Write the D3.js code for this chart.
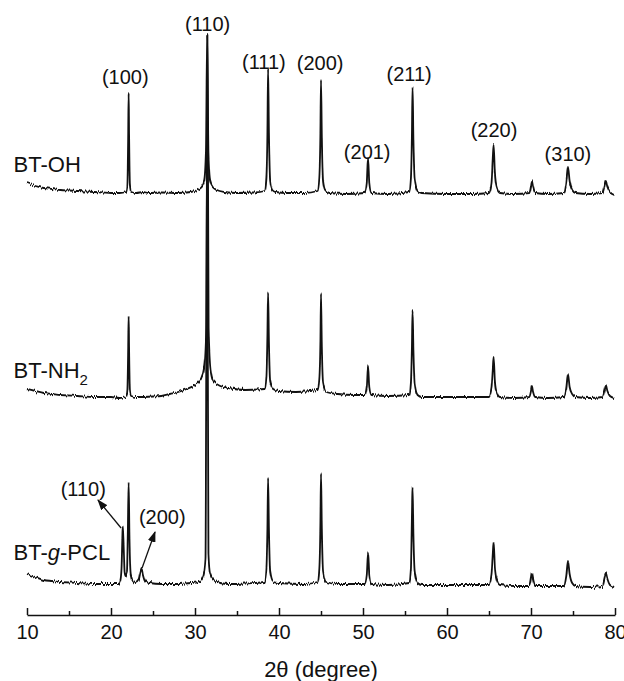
<!DOCTYPE html>
<html>
<head>
<meta charset="utf-8">
<script src="https://cdn.jsdelivr.net/npm/d3@7/dist/d3.min.js"></script>
<style>
  body { margin: 0; background: #fff; }
  text { font-family: 'Liberation Sans', Arial, sans-serif; fill: #111; }
</style>
</head>
<body>
<div id="chart"></div>
<script>

// Pattern data: [2theta, intensity (a.u.)], relative to each trace's own baseline
var ohPattern = [
  [10,10],[11,7],[12,5],[13,4],[14,3],[15,2.5],[16,2],[17,1.5],[18,1],[19,0.5],[20,0],[21,0],
  [21.8,1],[21.95,8],[22.05,60],[22.1,100],[22.15,60],[22.25,8],[22.4,1],[23,0],[23.8,1],[24.5,0],
  [26,0.5],[28,0],[29.5,1],[30.3,3],[30.8,6],[31.1,12],[31.3,40],[31.45,158],[31.6,40],[31.8,12],
  [32.1,6],[32.6,3],[33.5,1],[35,0],[37,0.5],[38.3,2],[38.5,15],[38.62,60],[38.7,124],[38.8,60],
  [38.95,12],[39.2,3],[39.6,1],[41,0],[43,0],[44.6,2],[44.8,15],[44.93,60],[45,113],[45.1,55],
  [45.25,12],[45.5,3],[46,0],[48,-1],[50.2,0],[50.45,10],[50.6,35],[50.75,10],[51,0],[53,-1],
  [55.5,1],[55.7,14],[55.82,55],[55.9,106],[56,55],[56.15,14],[56.5,2],[57,0],[60,-1],[63,-1],
  [65,0],[65.3,10],[65.45,35],[65.55,48],[65.7,20],[65.9,6],[66.3,0],[68,-1],[69.8,0],[70,7],
  [70.1,12],[70.25,6],[70.5,0],[72,-1],[73.9,0],[74.2,10],[74.4,26],[74.6,12],[74.9,3],[75.3,0],
  [77,-1],[78.5,0],[78.75,7],[78.9,12],[79.1,6],[79.4,1],[79.9,-2]
];

var nh2Pattern = [
  [10,8],[11,6],[12,4],[13,3],[14,2],[16,1],[18,0],[20,0],[21,-1],
  [21.8,0],[21.95,7],[22.05,50],[22.1,81],[22.15,50],[22.25,7],[22.4,1],[23,0],[25,0.5],
  [26,1],[27,3],[28,5],[29,8],[30,12],[30.7,18],[31.1,30],[31.35,70],[31.48,362],[31.62,70],
  [31.85,28],[32.2,16],[33,11],[34,9],[36,7],[38.3,8],[38.5,20],[38.62,60],[38.7,105],[38.8,55],
  [38.95,16],[39.3,8],[40,6],[42,5],[44.6,7],[44.8,18],[44.93,55],[45,103],[45.1,50],[45.25,14],
  [45.6,5],[47,3],[49,2],[50.2,2],[50.45,10],[50.6,32],[50.75,10],[51,2],[53,1],[55.5,2],
  [55.7,14],[55.82,48],[55.9,87],[56,48],[56.15,14],[56.5,2],[57,0],[60,0],[63,0],[65,0],
  [65.3,9],[65.45,28],[65.55,40],[65.7,16],[65.9,5],[66.3,0],[68,-1],[69.8,0],[70,6],[70.1,11],
  [70.25,5],[70.5,0],[72,-1],[73.9,0],[74.2,9],[74.4,23],[74.6,10],[74.9,3],[75.3,0],[77,-1],
  [78.5,0],[78.75,7],[78.9,12],[79.1,6],[79.4,1],[79.9,-1]
];

var pclPattern = [
  [10,10],[11,7],[12,4],[13,3],[14,2],[16,1],[18,0],[20,0],[20.9,0],
  [21.1,3],[21.25,15],[21.35,45],[21.4,57],[21.5,40],[21.62,12],[21.72,8],[21.9,12],[22,50],
  [22.1,102],[22.2,45],[22.35,10],[22.6,3],[22.9,1],[23.3,4],[23.5,12],[23.65,16],[23.8,10],
  [24.1,3],[24.6,1],[26,0],[28,0],[29.5,1],[30.5,2],[31,8],[31.25,25],[31.44,454],[31.6,30],
  [31.8,10],[32.2,4],[33,1],[34,0],[36,0.5],[38.3,2],[38.5,15],[38.62,55],[38.7,106],[38.8,55],
  [38.95,12],[39.3,2],[40,1],[43,0],[44.6,2],[44.8,15],[44.93,60],[45,111],[45.1,55],[45.25,12],
  [45.6,2],[47,0],[50.2,0],[50.45,9],[50.6,31],[50.75,9],[51,0],[53,-1],[55.5,1],[55.7,14],
  [55.8,55],[55.85,80],[55.9,97],[56,50],[56.15,13],[56.5,1],[57,-1],[60,-1],[63,-1],[65,-1],
  [65.3,9],[65.45,30],[65.55,42],[65.7,17],[65.9,5],[66.3,-1],[68,-2],[69.8,-2],[70,6],[70.1,11],
  [70.25,5],[70.5,-2],[72,-2],[73.9,-2],[74.2,8],[74.4,23],[74.6,10],[74.9,1],[75.3,-2],[77,-3],
  [78.5,-2],[78.75,6],[78.9,11],[79.1,5],[79.4,-1],[79.9,-3]
];

var patterns = [ohPattern, nh2Pattern, pclPattern];
var offsets = [422, 218, 31];
var sampleNames = ['BT-OH', 'BT-NH2', 'BT-g-PCL'];
var sampleLabelHeights = [21, 19, 24];

// Miller indices on the BT-OH trace
var hklLabels = ['(100)', '(110)', '(111)', '(200)', '(201)', '(211)', '(220)', '(310)'];
var hklTheta = [21.7, 31.5, 38.2, 44.9, 50.5, 55.5, 65.6, 74.4];
var hklHeight = [116, 169, 131, 130, 41, 119, 63, 39];

// PCL crystal reflections on the BT-g-PCL trace
var pclLabels = ['(110)', '(200)'];
var pclLabelTheta = [16.7, 26.1];
var pclLabelHeight = [95, 67];
var pclArrowFrom = [[21.2, 56], [23.7, 16]];
var pclArrowTo = [[18.45, 84], [25.24, 52]];

var xMajorTicks = [10, 20, 30, 40, 50, 60, 70, 80];
var xMinorTicks = [15, 25, 35, 45, 55, 65, 75];


var width = 624, height = 681;

var svg = d3.select('#chart').append('svg')
    .attr('width', width)
    .attr('height', height);

var x = d3.scaleLinear().domain([10, 80]).range([27, 615]);
var y = d3.scaleLinear().domain([0, 600]).range([615, 15]);

var defs = svg.append('defs');

defs.append('marker')
    .attr('id', 'arrow')
    .attr('markerUnits', 'userSpaceOnUse')
    .attr('markerWidth', 11)
    .attr('markerHeight', 8)
    .attr('refX', 10)
    .attr('refY', 4)
    .attr('orient', 'auto')
  .append('path')
    .attr('d', 'M0,0 L11,4 L0,8 Z')
    .attr('fill', '#111');

// grainy detector look: small vertical jitter only
var grain = defs.append('filter')
    .attr('id', 'grain')
    .attr('filterUnits', 'userSpaceOnUse')
    .attr('x', 0).attr('y', 0)
    .attr('width', width).attr('height', height)
    .attr('color-interpolation-filters', 'sRGB');

grain.append('feTurbulence')
    .attr('type', 'fractalNoise')
    .attr('baseFrequency', '0.9 0.02')
    .attr('numOctaves', 2)
    .attr('seed', 3)
    .attr('result', 'noise');

grain.append('feColorMatrix')
    .attr('in', 'noise')
    .attr('type', 'matrix')
    .attr('values', '1 0 0 0 0  0 0 0 0 0.5  0 0 0 0 0  0 0 0 0 1')
    .attr('result', 'map');

grain.append('feDisplacementMap')
    .attr('in', 'SourceGraphic')
    .attr('in2', 'map')
    .attr('scale', 5)
    .attr('xChannelSelector', 'G')
    .attr('yChannelSelector', 'R');


/**
 * Traces, stacked with their offsets.
 */
var traces = svg.append('g').attr('filter', 'url(#grain)');

patterns.forEach(function(pts, i) {
  var line = d3.line()
      .curve(d3.curveMonotoneX)
      .x(function(d) { return x(d[0]); })
      .y(function(d) { return y(d[1] + offsets[i]); });

  traces.append('path')
      .datum(pts)
      .attr('d', line)
      .attr('fill', 'none')
      .attr('stroke', '#111')
      .attr('stroke-width', 1.8)
      .attr('stroke-linejoin', 'round');
});


/**
 * Sample names.
 */
sampleNames.forEach(function(name, i) {
  var t = svg.append('text')
      .attr('x', x(8.4))
      .attr('y', y(offsets[i] + sampleLabelHeights[i]))
      .style('font-size', '22px');

  if (name === 'BT-NH2') {
    t.append('tspan').text('BT-NH');
    t.append('tspan').text('2')
        .attr('dy', 7)
        .style('font-size', '15px');
  } else if (name === 'BT-g-PCL') {
    t.append('tspan').text('BT-');
    t.append('tspan').text('g').style('font-style', 'italic');
    t.append('tspan').text('-PCL');
  } else {
    t.text(name);
  }
});


/**
 * Reflection labels.
 */
svg.selectAll('.hkl')
    .data(hklLabels)
  .enter().append('text')
    .attr('class', 'hkl')
    .attr('x', function(d, i) { return x(hklTheta[i]); })
    .attr('y', function(d, i) { return y(offsets[0] + hklHeight[i]); })
    .attr('dy', '0.35em')
    .attr('text-anchor', 'middle')
    .style('font-size', '20px')
    .text(function(d) { return d; });

svg.selectAll('.pcl')
    .data(pclLabels)
  .enter().append('text')
    .attr('class', 'pcl')
    .attr('x', function(d, i) { return x(pclLabelTheta[i]); })
    .attr('y', function(d, i) { return y(offsets[2] + pclLabelHeight[i]); })
    .attr('dy', '0.35em')
    .attr('text-anchor', 'middle')
    .style('font-size', '20px')
    .text(function(d) { return d; });

svg.selectAll('.arrow')
    .data(pclArrowFrom)
  .enter().append('line')
    .attr('class', 'arrow')
    .attr('x1', function(d) { return x(d[0]); })
    .attr('y1', function(d) { return y(offsets[2] + d[1]); })
    .attr('x2', function(d, i) { return x(pclArrowTo[i][0]); })
    .attr('y2', function(d, i) { return y(offsets[2] + pclArrowTo[i][1]); })
    .attr('stroke', '#111')
    .attr('stroke-width', 1.3)
    .attr('marker-end', 'url(#arrow)');


/**
 * Bottom axis, ticks pointing inward.
 */
var axisY = y(0);

var major = svg.append('g')
    .attr('transform', 'translate(0,' + axisY + ')')
    .call(d3.axisBottom(x)
      .tickValues(xMajorTicks)
      .tickSizeInner(-7)
      .tickSizeOuter(0)
      .tickPadding(10)
      .tickFormat(d3.format('d')));

svg.append('g')
    .attr('transform', 'translate(0,' + axisY + ')')
    .call(d3.axisBottom(x)
      .tickValues(xMinorTicks)
      .tickSizeInner(-4)
      .tickSizeOuter(0)
      .tickFormat(''))
    .select('.domain').remove();

svg.selectAll('.tick line, .domain')
    .attr('stroke', '#111')
    .attr('stroke-width', 1.5);

major.selectAll('.tick text')
    .style('font-size', '20px')
    .style('font-family', "'Liberation Sans', Arial, sans-serif")
    .attr('fill', '#111');

svg.append('text')
    .attr('x', x(45))
    .attr('y', 677)
    .attr('text-anchor', 'middle')
    .style('font-size', '22px')
    .text('2\u03b8 (degree)');

</script>
</body>
</html>
